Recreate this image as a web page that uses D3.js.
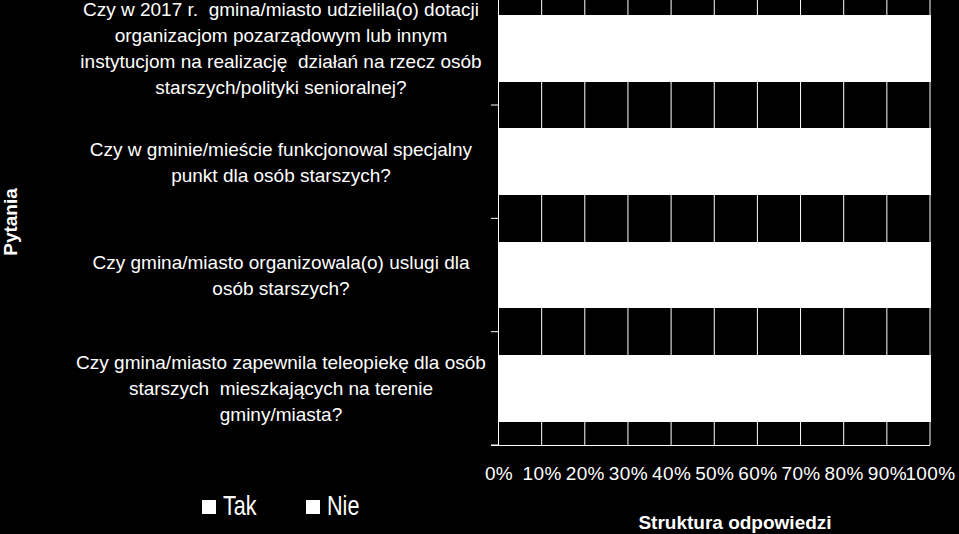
<!DOCTYPE html>
<html>
<head>
<meta charset="utf-8">
<script src="https://cdn.jsdelivr.net/npm/d3@7"></script>
<style>
  body { margin: 0; background: #000; }
  svg { display: block; background: #000; font-family: "Liberation Sans", Arial, sans-serif; }
</style>
</head>
<body>
<script>
// questions, top to bottom (each entry is the lines of the label)
var questions = [
  ["Czy w 2017 r.  gmina/miasto udzielila(o) dotacji", "organizacjom pozarządowym lub innym", "instytucjom na realizację  działań na rzecz osób", "starszych/polityki senioralnej?"],
  ["Czy w gminie/mieście funkcjonowal specjalny", "punkt dla osób starszych?"],
  ["Czy gmina/miasto organizowala(o) uslugi dla", "osób starszych?"],
  ["Czy gmina/miasto zapewnila teleopiekę dla osób", "starszych  mieszkających na terenie", "gminy/miasta?"]
];
var seriesNames = ["Tak", "Nie"];
var seriesColors = ["#ffffff", "#ffffff"];
// shares in % (both series are drawn white, so the split is an estimate)
var takValues = [35, 20, 55, 30];
var nieValues = [65, 80, 45, 70];
var xTicks = [0, 10, 20, 30, 40, 50, 60, 70, 80, 90, 100];

var width = 959, height = 534;
var svg = d3.select('body').append('svg')
            .attr('width', width)
            .attr('height', height);

var x = d3.scaleLinear().domain([0, 100]).range([498.5, 930]);
var y = d3.scaleBand()
          .domain(d3.range(questions.length))
          .range([-8.3, 445])
          .paddingInner(0.41)
          .paddingOuter(0.205);

// gridlines (under the bars)
svg.append('g').selectAll('line')
   .data(xTicks)
   .enter().append('line')
   .attr('x1', function(d){ return x(d); })
   .attr('x2', function(d){ return x(d); })
   .attr('y1', y.range()[0])
   .attr('y2', y.range()[1])
   .attr('stroke', '#fff')
   .attr('stroke-width', 1);

// stacked bars
var rows = questions.map(function(q, i){ return { i: i, Tak: takValues[i], Nie: nieValues[i] }; });
var stack = d3.stack().keys(seriesNames)(rows);

svg.append('g').selectAll('g')
   .data(stack)
   .enter().append('g')
   .attr('fill', function(d, k){ return seriesColors[k]; })
   .selectAll('rect')
   .data(function(d){ return d; })
   .enter().append('rect')
   .attr('shape-rendering', 'crispEdges')
   .attr('x', function(d){ return x(d[0]); })
   .attr('width', function(d){ return x(d[1]) - x(d[0]) + 0.5; })
   .attr('y', function(d){ return y(d.data.i); })
   .attr('height', y.bandwidth());

// x axis
var xAxis = svg.append('g')
   .attr('transform', 'translate(0,445)')
   .call(d3.axisBottom(x).tickValues(xTicks).tickSize(0).tickPadding(22)
           .tickFormat(function(d){ return d + '%'; }));
xAxis.select('.domain').attr('stroke', '#fff').attr('d', 'M491,0.5H930');
xAxis.selectAll('text')
     .attr('fill', '#fff')
     .style('font-size', '19px')
     .style('letter-spacing', '0.4px')
     .style('font-family', '"Liberation Sans", Arial, sans-serif');

// y axis line and ticks at band boundaries
svg.append('line')
   .attr('x1', 498.5).attr('x2', 498.5)
   .attr('y1', y.range()[0]).attr('y2', 445)
   .attr('stroke', '#fff');
svg.append('g').selectAll('line')
   .data(d3.range(questions.length))
   .enter().append('line')
   .attr('x1', 491).attr('x2', 498.5)
   .attr('y1', function(d){ return y(d) + y.step() * (1 - 0.205); })
   .attr('y2', function(d){ return y(d) + y.step() * (1 - 0.205); })
   .attr('stroke', '#fff');

// category labels
var labels = svg.append('g').selectAll('text')
   .data(questions)
   .enter().append('text')
   .attr('fill', '#fff')
   .attr('text-anchor', 'middle')
   .style('font-size', '19px')
   .attr('y', function(d, i){ return y(i) + y.bandwidth() / 2 - (d.length - 1) * 13 + 7; });
labels.selectAll('tspan')
   .data(function(d){ return d; })
   .enter().append('tspan')
   .attr('x', 281)
   .attr('dy', function(d, j){ return j === 0 ? 0 : 26; })
   .style('white-space', 'pre')
   .text(function(d){ return d; });

// axis titles
svg.append('text')
   .attr('x', 735).attr('y', 529)
   .attr('text-anchor', 'middle')
   .attr('fill', '#fff')
   .style('font-size', '19px')
   .style('font-weight', 'bold')
   .text('Struktura odpowiedzi');

svg.append('text')
   .attr('transform', 'translate(17,222) rotate(-90)')
   .attr('text-anchor', 'middle')
   .attr('fill', '#fff')
   .style('font-size', '19px')
   .style('font-weight', 'bold')
   .text('Pytania');

// legend
var legend = svg.append('g').selectAll('g')
   .data(seriesNames)
   .enter().append('g')
   .attr('transform', function(d, k){ return 'translate(' + (202 + k * 104) + ',500)'; });
legend.append('rect')
   .attr('width', 14).attr('height', 14)
   .attr('fill', function(d, k){ return seriesColors[k]; });
legend.append('text')
   .attr('transform', 'translate(21,15) scale(0.8,1)')
   .attr('fill', '#fff')
   .style('font-size', '27px')
   .text(function(d){ return d; });
</script>
</body>
</html>
